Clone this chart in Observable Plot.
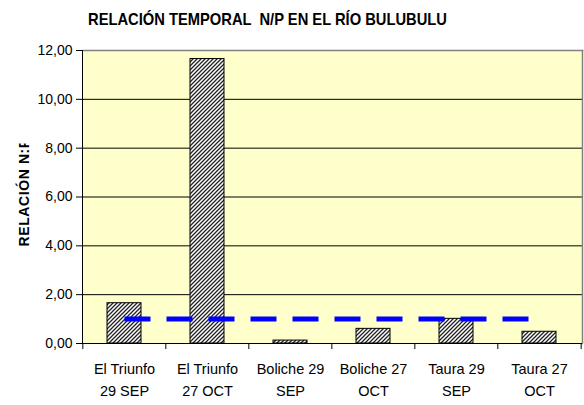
<!DOCTYPE html>
<html>
<head>
<meta charset="utf-8">
<script src="https://cdn.jsdelivr.net/npm/d3@7"></script>
<script src="https://cdn.jsdelivr.net/npm/@observablehq/plot@0.6"></script>
<style>
  html, body { margin: 0; padding: 0; background: #ffffff; }
  #chart { position: relative; width: 584px; height: 405px; }
</style>
</head>
<body>
<svg width="0" height="0" style="position:absolute">
  <defs>
    <pattern id="hatch" patternUnits="userSpaceOnUse" width="4" height="4">
      <rect width="4" height="4" fill="#ffffff"></rect>
      <path d="M-1,1 l2,-2 M0,4 l4,-4 M3,5 l2,-2" stroke="#222222" stroke-width="1.3"></path>
    </pattern>
  </defs>
</svg>
<div id="chart"></div>
<script>
const title = "RELACIÓN TEMPORAL  N/P EN EL RÍO BULUBULU";
const yLabel = "RELACIÓN N:P";
const categories = ["El Triunfo\n29 SEP", "El Triunfo\n27 OCT", "Boliche 29\nSEP", "Boliche 27\nOCT", "Taura 29\nSEP", "Taura 27\nOCT"];
const ratios = [1.65, 11.65, 0.12, 0.6, 1.01, 0.48];
const reference = [1, 1, 1, 1, 1, 1];
const yTicks = [0, 2, 4, 6, 8, 10, 12];

const bars = categories.map((c, i) => ({cat: c, value: ratios[i]}));
const refLine = categories.map((c, i) => ({cat: c, value: reference[i]}));

const W = 584, H = 405, mL = 82, mR = 2, mT = 50, mB = 62;
const step = (W - mL - mR) / categories.length;

const plot = Plot.plot({
  width: W,
  height: H,
  marginLeft: mL,
  marginRight: mR,
  marginTop: mT,
  marginBottom: mB,
  style: {fontFamily: "'Liberation Sans', Arial, sans-serif", color: "#000", background: "#fff"},
  x: {type: "band", domain: categories, paddingInner: 0.59, paddingOuter: 0.295, label: null},
  y: {domain: [0, 12], label: null},
  marks: [
    Plot.frame({fill: "#FFFFCC", stroke: null}),
    Plot.ruleY(yTicks.filter(d => d > 0 && d < 12), {stroke: "#000", strokeWidth: 1}),
    Plot.frame({anchor: "top", stroke: "#808080", strokeWidth: 1.5}),
    Plot.frame({anchor: "right", stroke: "#808080", strokeWidth: 1.5}),
    Plot.frame({anchor: "left", stroke: "#000", strokeWidth: 1}),
    Plot.barY(bars, {x: "cat", y: "value", fill: "url(#hatch)", stroke: "#000", strokeWidth: 1}),
    Plot.lineY(refLine, {x: "cat", y: "value", stroke: "#0000FF", strokeWidth: 5, strokeDasharray: "26,16", strokeLinecap: "butt"}),
    Plot.ruleY([0], {stroke: "#000", strokeWidth: 1}),
    Plot.ruleX(categories, {x: d => d, y1: 0, y2: 0, insetBottom: -6, dx: -step / 2, stroke: "#000"}),
    Plot.ruleX(categories.slice(-1), {x: d => d, y1: 0, y2: 0, insetBottom: -6, dx: step / 2, stroke: "#000"}),
    Plot.axisY(yTicks, {tickFormat: d => d.toFixed(2).replace(".", ","), tickSize: 6, tickPadding: 4, fontSize: 14, label: null, stroke: "#000", fill: "#000"}),
    Plot.axisX({tickSize: 0, tickPadding: 15, fontSize: 14.5, lineHeight: 1.5, label: null, fill: "#000"}),
    Plot.text([title], {frameAnchor: "top-left", dx: 267 - mL, dy: 19 - mT, text: d => d, fontSize: 17, fontWeight: "bold", textAnchor: "middle", lineAnchor: "middle", fill: "#000"}),
    Plot.text([yLabel], {frameAnchor: "left", rotate: -90, textAnchor: "start", lineAnchor: "middle", dx: 24 - mL, dy: 246 - (mT + (H - mT - mB) / 2), text: d => d, fontSize: 14, fontWeight: "bold", fill: "#000"})
  ]
});

document.getElementById("chart").appendChild(plot);

// post-styling of the title and y label
const svg = plot;
const ns = "http://www.w3.org/2000/svg";
svg.querySelectorAll("text").forEach(t => {
  if (t.textContent === title) {
    t.setAttribute("textLength", 359);
    t.setAttribute("lengthAdjust", "spacingAndGlyphs");
    t.style.whiteSpace = "pre";
  }
  if (t.textContent === yLabel) {
    t.style.letterSpacing = "0.6px";
    const g = t.closest("g[aria-label='text']") || t.parentNode;
    let defs = svg.querySelector("defs");
    if (!defs) { defs = document.createElementNS(ns, "defs"); svg.insertBefore(defs, svg.firstChild); }
    const cp = document.createElementNS(ns, "clipPath");
    cp.setAttribute("id", "ylabclip");
    cp.setAttribute("clipPathUnits", "userSpaceOnUse");
    const r = document.createElementNS(ns, "rect");
    r.setAttribute("x", 0); r.setAttribute("y", 143.5); r.setAttribute("width", 60); r.setAttribute("height", 200);
    cp.appendChild(r);
    defs.appendChild(cp);
    const wrap = document.createElementNS(ns, "g");
    wrap.setAttribute("clip-path", "url(#ylabclip)");
    g.parentNode.insertBefore(wrap, g);
    wrap.appendChild(g);
  }
});
</script>
</body>
</html>
